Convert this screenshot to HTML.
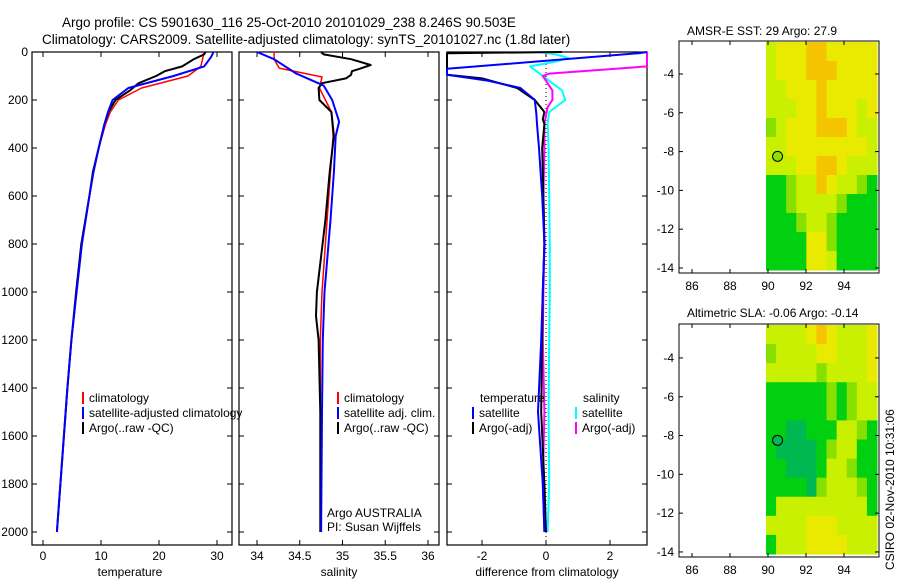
<!DOCTYPE html>
<html><head><meta charset="utf-8"><style>
body{margin:0;background:#fff;}
svg{display:block;font-family:"Liberation Sans",sans-serif;}
text{font-size:12px;fill:#000;}
</style></head><body>
<svg id="s" width="900" height="580">
<text x="62" y="27" style="font-size:13.5px">Argo profile: CS 5901630_116 25-Oct-2010 20101029_238 8.246S 90.503E</text>
<text x="42" y="44" style="font-size:13.5px">Climatology: CARS2009. Satellite-adjusted climatology: synTS_20101027.nc (1.8d later)</text>
<text x="130" y="576" text-anchor="middle">temperature</text>
<text x="339" y="576" text-anchor="middle">salinity</text>
<text x="547" y="576" text-anchor="middle">difference from climatology</text>
<text x="687" y="35">AMSR-E SST: 29 Argo: 27.9</text>
<text x="687" y="317">Altimetric SLA: -0.06 Argo: -0.14</text>
<text transform="translate(894,570) rotate(-90)">CSIRO 02-Nov-2010 10:31:06</text>
<text x="327" y="517">Argo AUSTRALIA</text>
<text x="327" y="531">PI: Susan Wijffels</text>
</svg>
<script>
// ---- data ----
const depthTicks=[0,200,400,600,800,1000,1200,1400,1600,1800,2000];
const tempTicks=[0,10,20,30];
const salTicks=[34,34.5,35,35.5,36];
const diffTicks=[-2,0,2];
const tClimD=[0,20,60,100,150,200,250,300,400,500,600,800,1000,1200,1400,1600,1800,2000];
const tClimV=[27.7,27.6,27.2,25,17,13,11.6,10.8,9.6,8.7,8,6.7,5.8,4.9,4.2,3.6,3.0,2.4];
const tSatD=[0,20,60,100,150,200,250,300,400,500,600,800,1000,1200,1400,1600,1800,2000];
const tSatV=[29.4,29.0,27.8,22.5,14.7,12,11.2,10.6,9.6,8.7,8,6.7,5.8,4.9,4.2,3.6,3.0,2.4];
const tArgD=[0,10,30,60,80,100,130,160,200,250,300,400,500,600,800,1000,1200,1400,1600,1800,2000];
const tArgV=[28,27.8,26,24,21,19.5,16.5,15,12.5,11.3,10.6,9.6,8.6,8,6.6,5.7,4.9,4.2,3.6,3.0,2.4];
const sClimD=[0,30,67,104,150,250,350,500,700,1000,1200,1500,2000];
const sClimV=[34.2,34.2,34.26,34.76,34.73,34.87,34.89,34.86,34.82,34.76,34.74,34.74,34.74];
const sSatD=[0,30,90,140,200,290,350,500,700,1000,1200,1500,2000];
const sSatV=[34.0,34.2,34.46,34.78,34.88,34.96,34.92,34.9,34.86,34.79,34.77,34.76,34.75];
const sArgD=[0,10,30,54,70,80,95,110,130,150,200,250,350,500,700,1000,1100,1200,1500,2000];
const sArgV=[34.75,34.78,35.1,35.33,35.2,35.11,35.1,35.04,34.76,34.72,34.73,34.87,34.9,34.85,34.8,34.7,34.69,34.72,34.74,34.74];
const dTSatD=[0,5,70,95,120,150,200,260,300,400,600,800,1000,1200,1500,1800,2000];
const dTSatV=[3.2,2.9,-3.2,-3.2,-1.8,-0.8,-0.35,-0.3,-0.28,-0.22,-0.12,-0.05,-0.1,-0.15,-0.25,-0.1,-0.05];
const dTArgD=[0,5,20,35,95,110,150,200,250,280,300,400,600,800,1000,1200,1500,1800,2000];
const dTArgV=[0.5,-3.2,-3.2,-3.2,-3.2,-2,-0.9,-0.35,-0.05,-0.1,-0.05,-0.12,-0.08,-0.05,-0.1,-0.12,-0.15,-0.05,0.0];
const dSSatD=[0,10,25,40,60,80,100,130,160,200,250,300,400,600,800,1000,1200,1500,1800,2000];
const dSSatV=[-0.2,0.3,0.7,0.3,-0.5,-0.3,-0.1,0.2,0.5,0.6,0.1,0.05,0.08,0.1,0.12,0.12,0.1,0.08,0.1,0.05];
const dSArgD=[0,10,15,50,60,90,100,120,160,200,230,300,400,600,800,1000,1200,1500,1800,2000];
const dSArgV=[3.2,3.2,3.2,3.2,3.2,0.1,-0.1,0,0.2,0.2,0.05,-0.05,-0.05,-0.08,-0.05,-0.08,-0.1,-0.05,-0.1,-0.05];
const sstGrid=["LoooOOooooo","LoooOOOoooo","LLoooOooooo","LLLooOoooLo","gLoooOOOoLL","LLooooooooL","LLLooOOoLLL","GGgLLOoLLgG","GGgLLLLgGGG","GGGgLLgGGGG","GGGGoogGGGG","GGGGooLGGGG"];
const slaGrid=["LLLLoOoLLLo","gLLLLooLLLo","LLLLLgLLLLo","GGGGGGgGgLL","GGGGGGgGgLL","GGDDGGGLLgG","GDDDDGgLLGG","GGDDDGLLgGG","GGGGDgLLLgG","GLLLLLLLLLG","LLLLoooLLLL","GLLLooooLLL"];
const lonTicks=[86,88,90,92,94];
const latTicks=[-4,-6,-8,-10,-12,-14];
const argoLon=90.503, argoLat=-8.246;
// ---- drawing ----
const NS="http://www.w3.org/2000/svg", S=document.getElementById('s');
function mk(t,a,p){const e=document.createElementNS(NS,t);for(const k in a)e.setAttribute(k,a[k]);(p||S).appendChild(e);return e;}
const yD=d=>52+d*0.24;
const BOT=545;
const panels=[
 {x0:32,x1:232,fx:v=>43+v*5.8,ticks:tempTicks,name:'temperature-panel'},
 {x0:239,x1:439,fx:v=>257+(v-34)*85.5,ticks:salTicks,name:'salinity-panel'},
 {x0:447,x1:647,fx:v=>546+v*32,ticks:diffTicks,name:'difference-panel'}];
panels.forEach((p,i)=>{
 const g=mk('g',{});
 
 
 mk('rect',{x:p.x0,y:52,width:p.x1-p.x0,height:BOT-52,fill:'none',stroke:'#000','stroke-width':1.2},g);
 p.ticks.forEach(v=>{const x=p.fx(v);
  mk('line',{x1:x,x2:x,y1:BOT,y2:BOT-5,stroke:'#000'},g);mk('line',{x1:x,x2:x,y1:52,y2:57,stroke:'#000'},g);
  const t=mk('text',{x:x,y:560,'text-anchor':'middle'},g);t.textContent=v;
  
  
 });
 depthTicks.forEach(d=>{const y=yD(d);
  mk('line',{x1:p.x0,x2:p.x0+5,y1:y,y2:y,stroke:'#000'},g);mk('line',{x1:p.x1,x2:p.x1-5,y1:y,y2:y,stroke:'#000'},g);
  if(i==0){const t=mk('text',{x:p.x0-4,y:y+4,'text-anchor':'end'},g);t.textContent=d;
   
   }
 });
});
mk('line',{x1:546,x2:546,y1:52,y2:BOT,stroke:'#000','stroke-dasharray':'1 3'});
function line(p,D,V,col,w,name){
 const pts=D.map((d,k)=>{let x=p.fx(V[k]);x=Math.max(p.x0,Math.min(p.x1,x));return x.toFixed(1)+','+yD(d).toFixed(1);}).join(' ');
 const e=mk('polyline',{points:pts,fill:'none',stroke:col,'stroke-width':w,'stroke-linejoin':'round'});
 
 
}
line(panels[0],tClimD,tClimV,'#f00',1.5,'temp-climatology-line');
line(panels[0],tArgD,tArgV,'#000',2,'temp-argo-line');
line(panels[0],tSatD,tSatV,'#00f',2,'temp-satellite-line');
line(panels[1],sClimD,sClimV,'#f00',1.5,'sal-climatology-line');
line(panels[1],sArgD,sArgV,'#000',2,'sal-argo-line');
line(panels[1],sSatD,sSatV,'#00f',2,'sal-satellite-line');
line(panels[2],dSSatD,dSSatV,'#0ff',2,'diff-sal-satellite-line');
line(panels[2],dSArgD,dSArgV,'#f0f',2,'diff-sal-argo-line');
line(panels[2],dTArgD,dTArgV,'#000',2,'diff-temp-argo-line');
line(panels[2],dTSatD,dTSatV,'#00f',2,'diff-temp-satellite-line');
function leg(x,y,col,txt){const g=mk('g',{});
 
 
 mk('line',{x1:x,x2:x,y1:y-10,y2:y+2,stroke:col,'stroke-width':2},g);
 const t=mk('text',{x:x+6,y:y},g);t.textContent=txt;}
leg(83,402,'#f00','climatology');leg(83,417,'#00f','satellite-adjusted climatology');leg(83,432,'#000','Argo(..raw -QC)');
leg(338,402,'#f00','climatology');leg(338,417,'#00f','satellite adj. clim.');leg(338,432,'#000','Argo(..raw -QC)');
mk('text',{x:480,y:402}).textContent='temperature';
leg(473,417,'#00f','satellite');leg(473,432,'#000','Argo(-adj)');
mk('text',{x:583,y:402}).textContent='salinity';
leg(576,417,'#0ff','satellite');leg(576,432,'#f0f','Argo(-adj)');
const cmap={L:'#c8f000',o:'#eaea00',O:'#f5c400',g:'#88e000',G:'#00d010',D:'#00b850'};
function map(top,bot,latTop,grid,name,circ){
 const g=mk('g',{});
 
 
 const fx=l=>692+(l-86)*19, fy=l=>top+(latTop-l)*19.4;
 const x0=766,x1=877,y0=top+1,y1=bot-3,cw=(x1-x0)/11,ch=(y1-y0)/12;
 grid.forEach((r,i)=>[...r].forEach((c,j)=>mk('rect',{x:x0+j*cw,y:y0+i*ch,width:cw+0.5,height:ch+0.5,fill:cmap[c]},g)));
 mk('rect',{x:679,y:top,width:200,height:bot-top,fill:'none',stroke:'#000'},g);
 lonTicks.forEach(l=>{const x=fx(l);mk('line',{x1:x,x2:x,y1:bot,y2:bot-4,stroke:'#000'},g);mk('line',{x1:x,x2:x,y1:top,y2:top+4,stroke:'#000'},g);
  const t=mk('text',{x:x,y:bot+17,'text-anchor':'middle'},g);t.textContent=l;});
 latTicks.forEach(l=>{const y=fy(l);mk('line',{x1:679,x2:683,y1:y,y2:y,stroke:'#000'},g);mk('line',{x1:879,x2:875,y1:y,y2:y,stroke:'#000'},g);
  const t=mk('text',{x:674,y:y+4,'text-anchor':'end'},g);t.textContent=l;});
 const c=mk('circle',{cx:fx(argoLon),cy:fy(argoLat),r:5,fill:circ,stroke:'#000'},g);
 
 
}
map(41,273,-2.3,sstGrid,'sst-map','#8ee000');
map(324,557,-2.25,slaGrid,'sla-map','#00b850');
</script>
</body></html>
